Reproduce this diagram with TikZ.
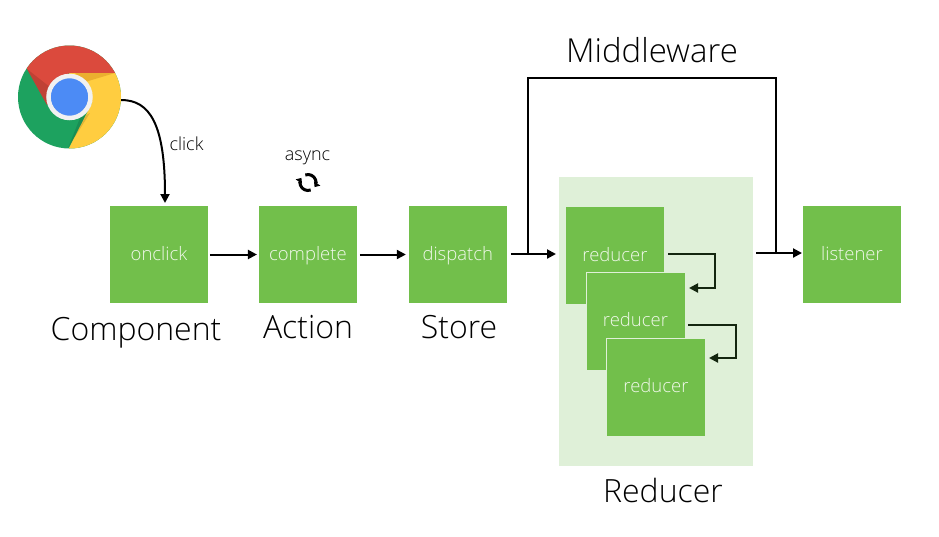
\documentclass[tikz,border=0pt]{standalone}
\usepackage{fontspec}
\setmainfont{Open Sans Light}
\usetikzlibrary{arrows.meta,positioning}
\definecolor{Leaf}{HTML}{72BF4B}
\definecolor{Pale}{HTML}{DFF0D8}
\definecolor{Label}{HTML}{F0F8EA}
\definecolor{Ink}{HTML}{000000}
\definecolor{Loop}{HTML}{14260F}
\definecolor{ChromeRed}{HTML}{DB4A3D}
\definecolor{ChromeGreen}{HTML}{1DA25F}
\definecolor{ChromeYellow}{HTML}{FFCD40}
\definecolor{ChromeBlue}{HTML}{4C8BF5}
\definecolor{ChromeRing}{HTML}{F1F1F1}
\tikzset{
 block/.style={fill=Leaf,text=Label,minimum width=97.5pt,minimum height=97pt,inner sep=0pt,text height=11pt,text depth=0pt,font=\fontsize{18.5}{20}\selectfont},
 stacked/.style={block,draw=Pale,line width=1pt,minimum width=99pt,minimum height=98pt},
 arr/.style={-{Triangle[length=9pt,width=9pt]},line width=2pt,draw=Ink},
 wire/.style={line width=2pt,draw=Ink},
 back/.style={arr,draw=Loop},
 caption/.style={inner sep=0pt,anchor=base,font=\fontsize{32}{34}\selectfont},
 small/.style={inner sep=0pt,anchor=base,font=\fontsize{18}{20}\selectfont}
}
\begin{document}
\begin{tikzpicture}[x=1pt,y=-1pt,node distance=51pt]
\useasboundingbox (0,0) rectangle (939,536);
\fill[white] (0,0) rectangle (939,536);
% boxes of the main row
\node[block] (onclick) at (159,254.5) {onclick};
\node[block,right=of onclick] (complete) {complete};
\node[block,right=52pt of complete] (dispatch) {dispatch};
\node[block] (listener) at (852,254.5) {listener};
% reducer panel
\node[fill=Pale,minimum width=194pt,minimum height=289pt,inner sep=0pt] (panel) at (656,321.5) {};
\node[stacked] (reducerA) at (615,255.5) {reducer};
\node[stacked] (reducerB) at (635.5,321) {reducer};
\node[stacked] (reducerC) at (656,387) {reducer};
% captions
\node[caption] (component) at (136,340) {Component};
\node[caption] (action) at (308,338.5) {Action};
\node[caption] (store) at (459,338.5) {Store};
\node[caption] (reducer) at (663,502) {Reducer};
\node[caption,font=\fontsize{33}{34}\selectfont] (middleware) at (652,62.5) {Middleware};
\node[small] (click) at (186.5,150.7) {click};
\node[small] (async) at (307.5,160) {async};
% chrome icon
\node[circle,minimum size=103pt,inner sep=0pt] (chrome) at (69.5,97) {};
\begin{scope}
\clip (69.5,97) circle (51.5);
\fill[ChromeGreen] (0,30) rectangle (130,160);
\fill[ChromeRed] (27,69) -- (18,30) -- (125,30) -- (115,73) -- (69,73) -- (47,105) -- cycle;
\fill[ChromeYellow] (69,73) -- (125,73) -- (125,160) -- (66,152) -- (69,148) -- (92,103) -- cycle;
\fill[black,opacity=.12] (27,69) -- (47,105) -- (60,95) -- cycle;
\fill[black,opacity=.12] (68,148) -- (90,113) -- (80,118) -- cycle;
\fill[orange!70!black,opacity=.25] (75,73) -- (115,73) -- (85,82) -- cycle;
\end{scope}
\node[circle,fill=ChromeBlue,draw=ChromeRing,line width=4.5pt,minimum size=42pt,inner sep=0pt] (hub) at (69.5,97) {};
% async icon
\node[minimum size=20pt,inner sep=0pt] (sync) at (308,182.5) {};
\draw[line width=3pt,-{Triangle[length=4.5pt,width=7.5pt]}] (sync.center) ++(-2.7,-7.5) arc[start angle=-110,end angle=35,radius=8];
\draw[line width=3pt,-{Triangle[length=4.5pt,width=7.5pt]}] (sync.center) ++(2.7,7.5) arc[start angle=70,end angle=215,radius=8];
% connectors
\coordinate (clickin) at (165,203);
\coordinate (tapleft) at (528,254);
\coordinate (tapright) at (776,253);
\coordinate (outA) at (668,254);
\coordinate (cornerA) at (715,254);
\coordinate (cornerB) at (715,288);
\coordinate (inB) at (689,288);
\coordinate (outB) at (688,325);
\coordinate (cornerC) at (736,325);
\coordinate (cornerD) at (736,358);
\coordinate (inC) at (709,358);
\coordinate (listenerout) at (756,253);
\coordinate (listenerin) at (802,253);
\coordinate (reducerin) at (556,254);
\coordinate (topleft) at (528,78);
\coordinate (topright) at (776,78);
\draw[arr] (chrome.east) ++(0,3) .. controls +(29,0) and (165,125) .. (clickin);
\draw[arr,yshift=.5pt,shorten <=2pt,shorten >=2pt] (onclick) -- (complete);
\draw[arr,yshift=.5pt,shorten <=3pt,shorten >=3pt] (complete) -- (dispatch);
\draw[arr,shorten <=4pt] (dispatch.east |- reducerin) -- (reducerin);
\draw[wire] (tapleft) -- (topleft) -- (topright) -- (tapright);
\draw[arr] (listenerout) -- (listenerin);
\draw[back] (outA) -- (cornerA) -- (cornerB) -- (inB);
\draw[back] (outB) -- (cornerC) -- (cornerD) -- (inC);
\end{tikzpicture}
\end{document}
